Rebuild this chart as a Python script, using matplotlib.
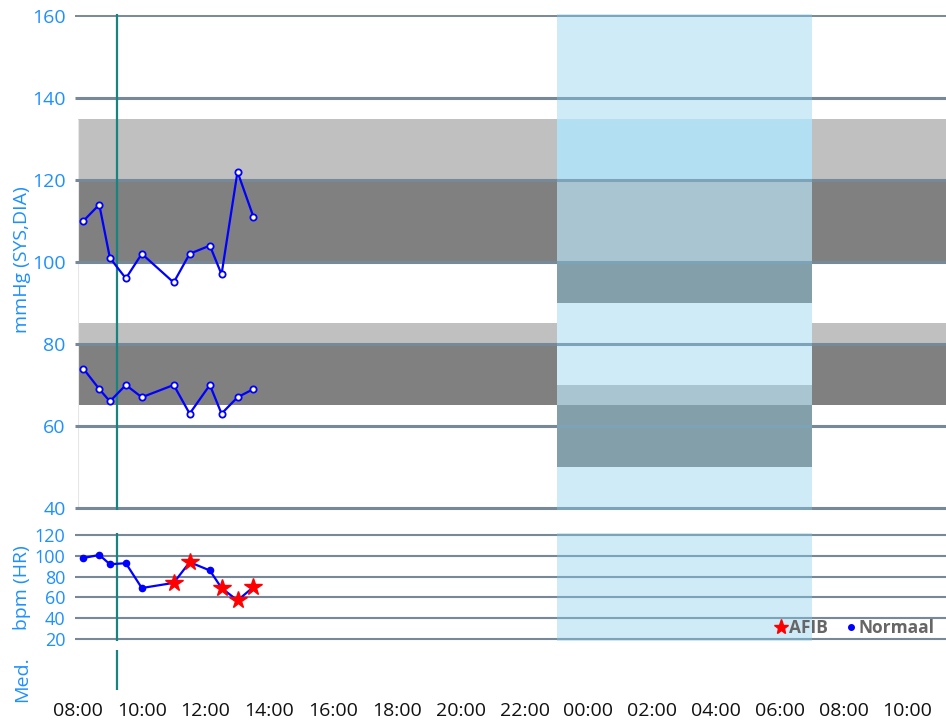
# Blood pressure / heart rate day chart

import matplotlib
matplotlib.use('Agg')
import matplotlib.pyplot as plt
from matplotlib.lines import Line2D

plt.rcParams['font.family'] = ['Open Sans', 'DejaVu Sans']

# measurements (times before 08:00 belong to the next day)
meas_times = ['08:10', '08:40', '09:00', '09:30', '10:00', '11:00', '11:30', '12:08', '12:30', '13:00', '13:30']
sys_vals = [110, 114, 101, 96, 102, 95, 102, 104, 97, 122, 111]
dia_vals = [74, 69, 66, 70, 67, 70, 63, 70, 63, 67, 69]
hr_vals = [98, 101, 92, 93, 69, 74, 94, 86, 69, 57, 70]
hr_type = ['N', 'N', 'N', 'N', 'N', 'A', 'A', 'N', 'A', 'A', 'A']
med_time = '09:13'
night_start = '23:00'
night_end = '07:00'

# target bands (low, high)
day_light = [(120, 135), (80, 85)]
day_dark = [(100, 120), (65, 80)]
night_extra = [(120, 135)]
night_light = [(100, 120), (65, 70)]
night_dark = [(90, 100), (50, 65)]

bp_ticks = [40, 60, 80, 100, 120, 140, 160]
hr_ticks = [20, 40, 60, 80, 100, 120]
x_ticks = list(range(8, 36, 2))

GRID = '#778899'
LABEL = '#1E90FF'
TEAL = '#17847f'
NIGHT = '#87CEEB'


def to_hours(s):
	h, m = s.split(':')
	v = int(h) + int(m) / 60.0
	if v < 8:
		v += 24
	return v


t = [to_hours(s) for s in meas_times]
t_med = to_hours(med_time)
t_ns = to_hours(night_start)
t_ne = to_hours(night_end)
x0, x1 = 8.0, 8.0 + 868 / 31.9

W, H = 946, 722
fig = plt.figure(figsize=(W / 100, H / 100), dpi=100)
ax_bp = fig.add_axes([78 / W, 1 - 510 / H, 868 / W, 496 / H])
ax_hr = fig.add_axes([78 / W, 1 - 641 / H, 868 / W, 108 / H])
ax_med = fig.add_axes([78 / W, 1 - 690 / H, 868 / W, 40 / H])

for ax in (ax_bp, ax_hr, ax_med):
	ax.set_xlim(x0, x1)
	for s in ax.spines.values():
		s.set_visible(False)
	ax.tick_params(length=0, labelbottom=False)
	ax.set_xticks([])

# --- blood pressure panel
ax_bp.set_ylim(39.5, 160.5)
for lo, hi in day_light:
	ax_bp.axhspan(lo, hi, color='#C0C0C0', lw=0, zorder=1)
for lo, hi in day_dark:
	ax_bp.axhspan(lo, hi, color='#808080', lw=0, zorder=1)
ax_bp.fill_between([t_ns, t_ne], 39.5, 160.5, color='white', lw=0, zorder=1.2)
for lo, hi in night_extra:
	ax_bp.fill_between([t_ns, t_ne], lo, hi, color=NIGHT, alpha=0.4, lw=0, zorder=1.3)
for lo, hi in night_light:
	ax_bp.fill_between([t_ns, t_ne], lo, hi, color='#C0C0C0', lw=0, zorder=1.3)
for lo, hi in night_dark:
	ax_bp.fill_between([t_ns, t_ne], lo, hi, color='#808080', lw=0, zorder=1.3)
ax_bp.vlines(x0, 40, 135, color='#e6e6e6', lw=0.8, zorder=1.1)
for v in bp_ticks:
	lw = 1.4 if v == 160 else 2.2
	ax_bp.hlines(v, x0 - 0.08, x1, color=GRID, lw=lw, zorder=1.5, clip_on=False)
ax_bp.axvspan(t_ns, t_ne, color=NIGHT, alpha=0.4, lw=0, zorder=1.8)
ax_bp.axvline(t_med, color=TEAL, lw=1.6, zorder=2.5)
ax_bp.plot(t, sys_vals, '-o', color='#0000FF', lw=1.6, ms=4.5, mfc='white', mec='#0000FF', mew=1.3, zorder=3)
ax_bp.plot(t, dia_vals, '-o', color='#0000FF', lw=1.6, ms=4.5, mfc='white', mec='#0000FF', mew=1.3, zorder=3)
ax_bp.set_yticks(bp_ticks)
ax_bp.tick_params(axis='y', labelcolor=LABEL, labelsize=14, pad=9)

# --- heart rate panel
ax_hr.set_ylim(17.8, 122.2)
for v in hr_ticks:
	ax_hr.hlines(v, x0 - 0.08, x1, color=GRID, lw=1.5, zorder=1.5, clip_on=False)
ax_hr.axvspan(t_ns, t_ne, color=NIGHT, alpha=0.4, lw=0, zorder=1.8)
ax_hr.axvline(t_med, color=TEAL, lw=1.6, zorder=2.5)
ax_hr.plot(t, hr_vals, '-', color='#0000FF', lw=1.6, zorder=3)
tn = [x for x, k in zip(t, hr_type) if k == 'N']
hn = [y for y, k in zip(hr_vals, hr_type) if k == 'N']
ta = [x for x, k in zip(t, hr_type) if k == 'A']
ha = [y for y, k in zip(hr_vals, hr_type) if k == 'A']
ax_hr.plot(tn, hn, 'o', color='#0000FF', ms=4.5, zorder=4)
ax_hr.plot(ta, ha, '*', color='#FF0000', mec='#FF0000', ms=13, zorder=4)
ax_hr.set_yticks(hr_ticks)
ax_hr.tick_params(axis='y', labelcolor=LABEL, labelsize=13, pad=9)

handles = [Line2D([], [], ls='', marker='*', color='#FF0000', ms=11),
	Line2D([], [], ls='', marker='o', color='#0000FF', ms=4)]
leg = ax_hr.legend(handles, ['AFIB', 'Normaal'], loc='center right', bbox_to_anchor=(0.987, 0.12),
	ncol=2, frameon=False, handlelength=0.7, handletextpad=0.1, columnspacing=1.0,
	borderpad=0, borderaxespad=0, prop={'weight': 'bold', 'size': 12.5})
for txt in leg.get_texts():
	txt.set_color('#666666')

# --- medication panel
ax_med.set_ylim(0, 1)
ax_med.axvline(t_med, ymin=0, ymax=1, color=TEAL, lw=1.6)
ax_med.set_xticks(x_ticks)
ax_med.set_xticklabels(['%02d:00' % (h % 24) for h in x_ticks])
ax_med.tick_params(axis='x', labelbottom=True, labelsize=14, labelcolor='#111111', pad=9)
ax_med.set_yticks([])

fig.text(22 / W, 1 - 260 / H, 'mmHg (SYS,DIA)', rotation=90, color=LABEL, fontsize=14, ha='center', va='center')
fig.text(22 / W, 1 - 588 / H, 'bpm (HR)', rotation=90, color=LABEL, fontsize=14, ha='center', va='center')
fig.text(22 / W, 1 - 679 / H, 'Med.', rotation=90, color=LABEL, fontsize=14, ha='center', va='center')

plt.savefig('out.png', dpi=100)
